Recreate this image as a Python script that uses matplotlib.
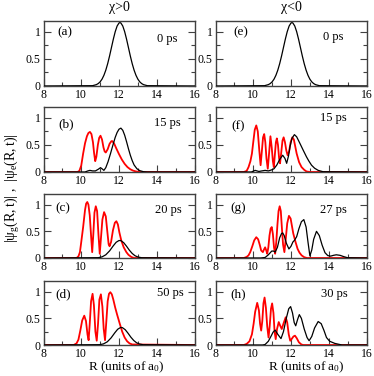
import matplotlib
matplotlib.use("Agg")
import matplotlib.pyplot as plt
from matplotlib.ticker import MultipleLocator

plt.rcParams['font.family'] = ['Liberation Serif', 'DejaVu Serif']
plt.rcParams['mathtext.fontset'] = 'custom'
plt.rcParams['mathtext.rm'] = 'Liberation Serif'
plt.rcParams['mathtext.it'] = 'Liberation Serif'
plt.rcParams['mathtext.default'] = 'regular'

# ---------------- data ----------------
x_ticks = [8, 10, 12, 14, 16]
y_ticks = [0, 0.5, 1]
y_ticklabels = ["0", "0.5", "1"]
col_titles = ["\u03c7>0", "\u03c7<0"]
panel_labels = ["(a)", "(b)", "(c)", "(d)", "(e)", "(f)", "(g)", "(h)"]
time_labels = ["0 ps", "15 ps", "20 ps", "50 ps", "0 ps", "15 ps", "27 ps", "30 ps"]

# initial wavepacket (panels a, e)
R_init = [8, 10.6, 10.8, 10.9, 11.0, 11.1, 11.2, 11.3, 11.4, 11.5, 11.6, 11.7, 11.8, 11.9,
          12.0, 12.05, 12.1, 12.2, 12.3, 12.4, 12.5, 12.6, 12.7, 12.8, 12.9, 13.0, 13.1,
          13.2, 13.3, 13.5, 16]
psi_init = [0, 0.006, 0.025, 0.045, 0.077, 0.126, 0.197, 0.292, 0.412, 0.554, 0.710, 0.865,
            1.003, 1.107, 1.163, 1.17, 1.163, 1.107, 1.003, 0.865, 0.710, 0.554, 0.412,
            0.292, 0.197, 0.126, 0.077, 0.045, 0.025, 0.006, 0]

# panel b (chi>0, 15 ps)
R_b_g = [8, 9.8, 9.9, 10.0, 10.1, 10.2, 10.3, 10.38, 10.46, 10.54, 10.62, 10.68, 10.74, 10.8,
         10.88, 10.95, 11.02, 11.1, 11.18, 11.24, 11.3, 11.4, 11.5, 11.6, 11.65, 11.75, 11.85,
         12.0, 12.15, 12.3, 12.45, 12.6, 12.75, 12.9, 13.1, 16]
psi_b_g = [0, 0, 0.02, 0.12, 0.34, 0.53, 0.66, 0.72, 0.74, 0.7, 0.55, 0.35, 0.2, 0.28, 0.5,
           0.63, 0.67, 0.6, 0.45, 0.38, 0.36, 0.42, 0.52, 0.57, 0.57, 0.52, 0.44, 0.33, 0.23,
           0.15, 0.09, 0.05, 0.025, 0.01, 0, 0]
R_b_e = [8, 10.2, 10.35, 10.46, 10.6, 10.75, 10.9, 11.02, 11.1, 11.2, 11.3, 11.42, 11.55,
         11.68, 11.8, 11.9, 12.0, 12.1, 12.2, 12.3, 12.4, 12.5, 12.6, 12.7, 12.8, 12.95, 13.1,
         13.3, 13.5, 16]
psi_b_e = [0, 0, 0.02, 0.03, 0.02, 0.02, 0.05, 0.08, 0.06, 0.03, 0.08, 0.19, 0.34, 0.5, 0.64,
           0.73, 0.79, 0.81, 0.77, 0.68, 0.56, 0.43, 0.31, 0.21, 0.13, 0.06, 0.025, 0.005, 0, 0]

# panel c (chi>0, 20 ps)
R_c_g = [8, 9.75, 9.85, 9.93, 10.0, 10.1, 10.2, 10.26, 10.32, 10.38, 10.45, 10.52, 10.58,
         10.64, 10.7, 10.77, 10.84, 10.91, 10.98, 11.05, 11.12, 11.21, 11.3, 11.38, 11.45,
         11.5, 11.58, 11.68, 11.78, 11.86, 11.94, 12.02, 12.12, 12.25, 12.39, 12.5, 12.65,
         12.8, 16]
psi_c_g = [0, 0, 0.03, 0.11, 0.3, 0.58, 0.9, 1.02, 1.05, 1.0, 0.8, 0.42, 0.11, 0.45, 0.85,
           0.97, 0.88, 0.45, 0.08, 0.4, 0.72, 0.86, 0.78, 0.5, 0.26, 0.22, 0.3, 0.52, 0.66,
           0.69, 0.63, 0.48, 0.33, 0.2, 0.11, 0.06, 0.02, 0, 0]
R_c_e = [8, 10.9, 11.1, 11.3, 11.5, 11.7, 11.85, 12.0, 12.1, 12.25, 12.4, 12.55, 12.7, 12.85,
         13.0, 13.2, 16]
psi_c_e = [0, 0.006, 0.021, 0.06, 0.133, 0.23, 0.295, 0.328, 0.326, 0.287, 0.22, 0.146,
           0.085, 0.042, 0.019, 0.005, 0]

# panel d (chi>0, 50 ps)
R_d_g = [8, 9.6, 9.75, 9.85, 9.95, 10.05, 10.16, 10.25, 10.33, 10.39, 10.45, 10.52, 10.6,
         10.67, 10.75, 10.82, 10.89, 10.96, 11.04, 11.12, 11.19, 11.26, 11.33, 11.4, 11.47,
         11.54, 11.62, 11.7, 11.8, 11.9, 12.04, 12.17, 12.3, 12.43, 12.56, 12.7, 16]
psi_d_g = [0, 0, 0.03, 0.1, 0.27, 0.46, 0.55, 0.45, 0.2, 0.09, 0.4, 0.82, 0.96, 0.75, 0.25,
           0.08, 0.4, 0.85, 0.95, 0.72, 0.3, 0.09, 0.45, 0.82, 0.96, 0.99, 0.95, 0.85, 0.7,
           0.57, 0.4, 0.25, 0.14, 0.07, 0.03, 0.01, 0]
R_d_e = [8, 10.98, 11.18, 11.38, 11.58, 11.78, 11.93, 12.08, 12.18, 12.33, 12.48, 12.63,
         12.78, 12.93, 13.08, 13.28, 16]
psi_d_e = [0, 0.006, 0.021, 0.06, 0.133, 0.23, 0.295, 0.328, 0.326, 0.287, 0.22, 0.146,
           0.085, 0.042, 0.019, 0.005, 0]

# panel f (chi<0, 15 ps)
R_f_g = [8, 9.5, 9.65, 9.75, 9.85, 9.93, 10.0, 10.08, 10.16, 10.24, 10.32, 10.39, 10.46,
         10.52, 10.58, 10.64, 10.7, 10.77, 10.84, 10.91, 10.98, 11.04, 11.09, 11.14, 11.2,
         11.25, 11.31, 11.37, 11.42, 11.48, 11.55, 11.61, 11.68, 11.75, 11.82, 11.9, 11.98,
         12.07, 12.15, 12.22, 12.3, 12.43, 12.56, 12.7, 12.82, 13.0, 16]
psi_f_g = [0, 0, 0.02, 0.09, 0.2, 0.34, 0.55, 0.78, 0.86, 0.75, 0.4, 0.125, 0.4, 0.64, 0.7,
           0.55, 0.25, 0.06, 0.35, 0.66, 0.45, 0.2, 0.09, 0.3, 0.55, 0.62, 0.5, 0.25, 0.16,
           0.35, 0.58, 0.64, 0.55, 0.4, 0.31, 0.38, 0.55, 0.64, 0.6, 0.48, 0.34, 0.18, 0.09,
           0.04, 0.01, 0, 0]
R_f_e = [8, 9.9, 10.1, 10.3, 10.45, 10.63, 10.8, 10.98, 11.1, 11.25, 11.4, 11.56, 11.68,
         11.77, 11.87, 11.95, 12.05, 12.18, 12.3, 12.47, 12.65, 12.82, 12.95, 13.09, 13.25,
         13.44, 13.7, 16]
psi_f_e = [0, 0, 0.03, 0.01, 0.02, 0.03, 0.02, 0.04, 0.06, 0.13, 0.23, 0.31, 0.25, 0.16,
           0.3, 0.47, 0.62, 0.69, 0.65, 0.53, 0.4, 0.28, 0.2, 0.125, 0.07, 0.03, 0.005, 0]

# panel g (chi<0, 27 ps)
R_g_g = [8, 9.5, 9.65, 9.75, 9.84, 9.95, 10.05, 10.16, 10.26, 10.35, 10.42, 10.51, 10.57,
         10.63, 10.69, 10.74, 10.8, 10.86, 10.92, 10.98, 11.04, 11.1, 11.16, 11.22, 11.28,
         11.34, 11.4, 11.46, 11.52, 11.58, 11.65, 11.72, 11.8, 11.89, 11.98, 12.05, 12.12,
         12.24, 12.35, 12.45, 12.56, 12.7, 12.85, 16]
psi_g_g = [0, 0, 0.02, 0.05, 0.11, 0.22, 0.33, 0.39, 0.35, 0.24, 0.14, 0.11, 0.16, 0.2,
           0.14, 0.08, 0.2, 0.42, 0.55, 0.58, 0.45, 0.2, 0.08, 0.3, 0.62, 0.88, 0.97, 0.88,
           0.55, 0.25, 0.11, 0.35, 0.65, 0.79, 0.74, 0.6, 0.46, 0.3, 0.17, 0.1, 0.05, 0.015,
           0, 0]
R_g_e = [8, 10.4, 10.63, 10.8, 10.98, 11.08, 11.16, 11.28, 11.4, 11.5, 11.56, 11.64, 11.75,
         11.89, 12.0, 12.1, 12.18, 12.3, 12.42, 12.55, 12.68, 12.8, 12.9, 13.0, 13.1, 13.2,
         13.35, 13.5, 13.65, 13.8, 13.95, 14.1, 14.25, 14.4, 14.6, 14.8, 15.0, 16]
psi_g_e = [0, 0, 0.01, 0.06, 0.13, 0.13, 0.11, 0.2, 0.38, 0.46, 0.47, 0.42, 0.28, 0.17, 0.22,
           0.3, 0.33, 0.4, 0.55, 0.68, 0.72, 0.58, 0.3, 0.04, 0.15, 0.35, 0.5, 0.42, 0.24,
           0.1, 0.045, 0.035, 0.05, 0.06, 0.05, 0.025, 0.005, 0]

# panel h (chi<0, 30 ps)
R_h_g = [8, 9.5, 9.65, 9.8, 9.93, 10.02, 10.1, 10.21, 10.3, 10.36, 10.42, 10.48, 10.54, 10.6,
         10.67, 10.74, 10.81, 10.87, 10.94, 11.0, 11.07, 11.13, 11.19, 11.26, 11.35, 11.43,
         11.51, 11.6, 11.72, 11.8, 11.88, 11.96, 12.05, 12.13, 12.21, 12.3, 12.42, 12.55,
         12.65, 16]
psi_h_g = [0, 0, 0.02, 0.07, 0.2, 0.4, 0.62, 0.79, 0.65, 0.4, 0.27, 0.45, 0.78, 0.89, 0.7,
           0.35, 0.14, 0.35, 0.68, 0.78, 0.6, 0.25, 0.11, 0.3, 0.43, 0.36, 0.3, 0.4, 0.52,
           0.42, 0.2, 0.08, 0.12, 0.16, 0.175, 0.13, 0.05, 0.01, 0, 0]
R_h_e = [8, 10.5, 10.63, 10.8, 10.95, 11.05, 11.16, 11.3, 11.47, 11.6, 11.75, 11.88, 11.98,
         12.08, 12.17, 12.25, 12.35, 12.44, 12.55, 12.7, 12.85, 12.96, 13.1, 13.25, 13.44,
         13.6, 13.75, 13.88, 14.05, 14.32, 14.7, 16]
psi_h_e = [0, 0, 0.01, 0.07, 0.17, 0.24, 0.28, 0.2, 0.12, 0.25, 0.5, 0.68, 0.72, 0.6, 0.42,
           0.36, 0.48, 0.57, 0.5, 0.3, 0.14, 0.08, 0.16, 0.32, 0.44, 0.4, 0.27, 0.14, 0.07,
           0.03, 0, 0]

# (red ground-state curve, black excited-state curve) per panel; None = not drawn
panels = [
    (None, None, R_init, psi_init),
    (R_b_g, psi_b_g, R_b_e, psi_b_e),
    (R_c_g, psi_c_g, R_c_e, psi_c_e),
    (R_d_g, psi_d_g, R_d_e, psi_d_e),
    (None, None, R_init, psi_init),
    (R_f_g, psi_f_g, R_f_e, psi_f_e),
    (R_g_g, psi_g_g, R_g_e, psi_g_e),
    (R_h_g, psi_h_g, R_h_e, psi_h_e),
]

# ---------------- layout ----------------
W, H = 374, 376
fig = plt.figure(figsize=(W / 100, H / 100), dpi=100)

col_x = [43.5, 215.5]
ax_w = 151
rows = [(21, 86), (107, 172), (194, 258), (281, 345)]

label_pos = [(0.14, 0.82), (0.15, 0.74), (0.13, 0.77), (0.13, 0.80),
             (0.17, 0.82), (0.15, 0.71), (0.15, 0.78), (0.15, 0.80)]
time_pos = [(0.82, 0.72), (0.82, 0.75), (0.83, 0.75), (0.84, 0.81),
            (0.78, 0.75), (0.78, 0.83), (0.78, 0.75), (0.79, 0.80)]

spine_col = '#404040'
for i, (Rg, pg, Re, pe) in enumerate(panels):
    col = i // 4
    row = i % 4
    top, bot = rows[row]
    ax = fig.add_axes([col_x[col] / W, 1 - bot / H, ax_w / W, (bot - top) / H])
    if Rg is not None:
        ax.plot(Rg, pg, color='#ff0000', lw=1.3, zorder=2)
    ax.plot(Re, pe, color='#000000', lw=0.9, zorder=3)
    ax.set_xlim(8, 16)
    ax.set_ylim(0, 1.2)
    ax.set_xticks(x_ticks)
    ax.set_yticks(y_ticks)
    ax.set_yticklabels(y_ticklabels)
    ax.xaxis.set_minor_locator(MultipleLocator(1))
    ax.yaxis.set_minor_locator(MultipleLocator(0.25))
    ax.tick_params(which='both', direction='in', right=True, top=False,
                   color=spine_col, labelsize=8.5, pad=2)
    ax.tick_params(which='major', length=5, width=0.8)
    ax.tick_params(which='minor', length=3, width=0.8)
    for s in ax.spines.values():
        s.set_color(spine_col)
        s.set_linewidth(1.0)
    ax.text(label_pos[i][0], label_pos[i][1], panel_labels[i], transform=ax.transAxes,
            ha='center', va='center', fontsize=9.5)
    ax.text(time_pos[i][0], time_pos[i][1], time_labels[i], transform=ax.transAxes,
            ha='center', va='center', fontsize=9)

fig.text(119 / W, 1 - 8 / H, col_titles[0], ha='center', va='center', fontsize=10)
fig.text(291 / W, 1 - 8 / H, col_titles[1], ha='center', va='center', fontsize=10)
fig.text(126 / W, 1 - 360 / H, 'R (units of a$_0$)', ha='center', va='top', fontsize=9.5)
fig.text(306 / W, 1 - 360 / H, 'R (units of a$_0$)', ha='center', va='top', fontsize=9.5)
fig.text(12 / W, 1 - 188 / H, r'$|\psi_g(R,t)|$ ,  $|\psi_e(R,t)|$', rotation=90,
         ha='center', va='center', fontsize=10)

fig.savefig('out.png', dpi=100)
